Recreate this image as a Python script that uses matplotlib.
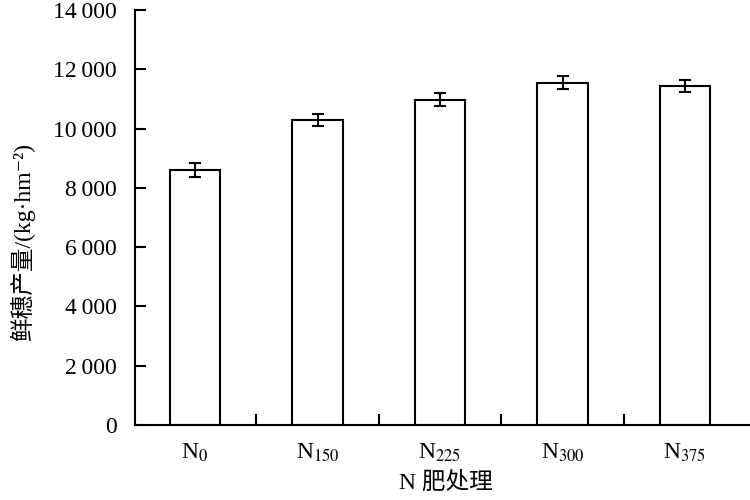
import matplotlib
matplotlib.use("Agg")
import matplotlib.pyplot as plt
from matplotlib.ticker import FuncFormatter, FixedLocator

plt.rcParams['font.family'] = ['Liberation Serif', 'Noto Sans CJK SC', 'DejaVu Sans']
plt.rcParams['mathtext.fontset'] = 'stix'

# 数据
treatments = ["N$_{0}$", "N$_{150}$", "N$_{225}$", "N$_{300}$", "N$_{375}$"]
yield_mean = [8600, 10280, 10980, 11540, 11450]
yield_err = [240, 210, 210, 220, 200]

fig = plt.figure(figsize=(7.5, 5), dpi=100)
ax = fig.add_axes([0.18, 0.15, 0.82, 0.83])

x = list(range(len(treatments)))
ax.bar(x, yield_mean, width=0.41, color="white", edgecolor="black", linewidth=1.5,
       yerr=yield_err, capsize=4.5, error_kw=dict(elinewidth=1.5, capthick=1.5, ecolor="black"))

ax.set_xlim(-0.49, 4.53)
ax.set_ylim(0, 14000)
ax.set_yticks(range(0, 14001, 2000))
ax.yaxis.set_major_formatter(FuncFormatter(
    lambda v, p: "0" if v == 0 else "{:,.0f}".format(v).replace(",", "\u2009")))

ax.set_xticks(x)
ax.set_xticklabels(treatments, fontsize=17)
ax.tick_params(axis="x", length=0, pad=12)
ax.xaxis.set_minor_locator(FixedLocator([0.5, 1.5, 2.5, 3.5]))
ax.tick_params(axis="x", which="minor", direction="in", length=8, width=1.5)
ax.tick_params(axis="y", direction="in", length=8, width=1.5, labelsize=17, pad=13)

for s in ["top", "right"]:
    ax.spines[s].set_visible(False)
for s in ["left", "bottom"]:
    ax.spines[s].set_linewidth(1.5)

ax.set_xlabel("N 肥处理", fontsize=17)
ax.xaxis.set_label_coords(0.505, -0.113)
ax.set_ylabel("鲜穗产量/(kg·hm⁻²)", fontsize=17)
ax.yaxis.set_label_coords(-0.163, 0.44)

fig.savefig("out.png", dpi=100)
